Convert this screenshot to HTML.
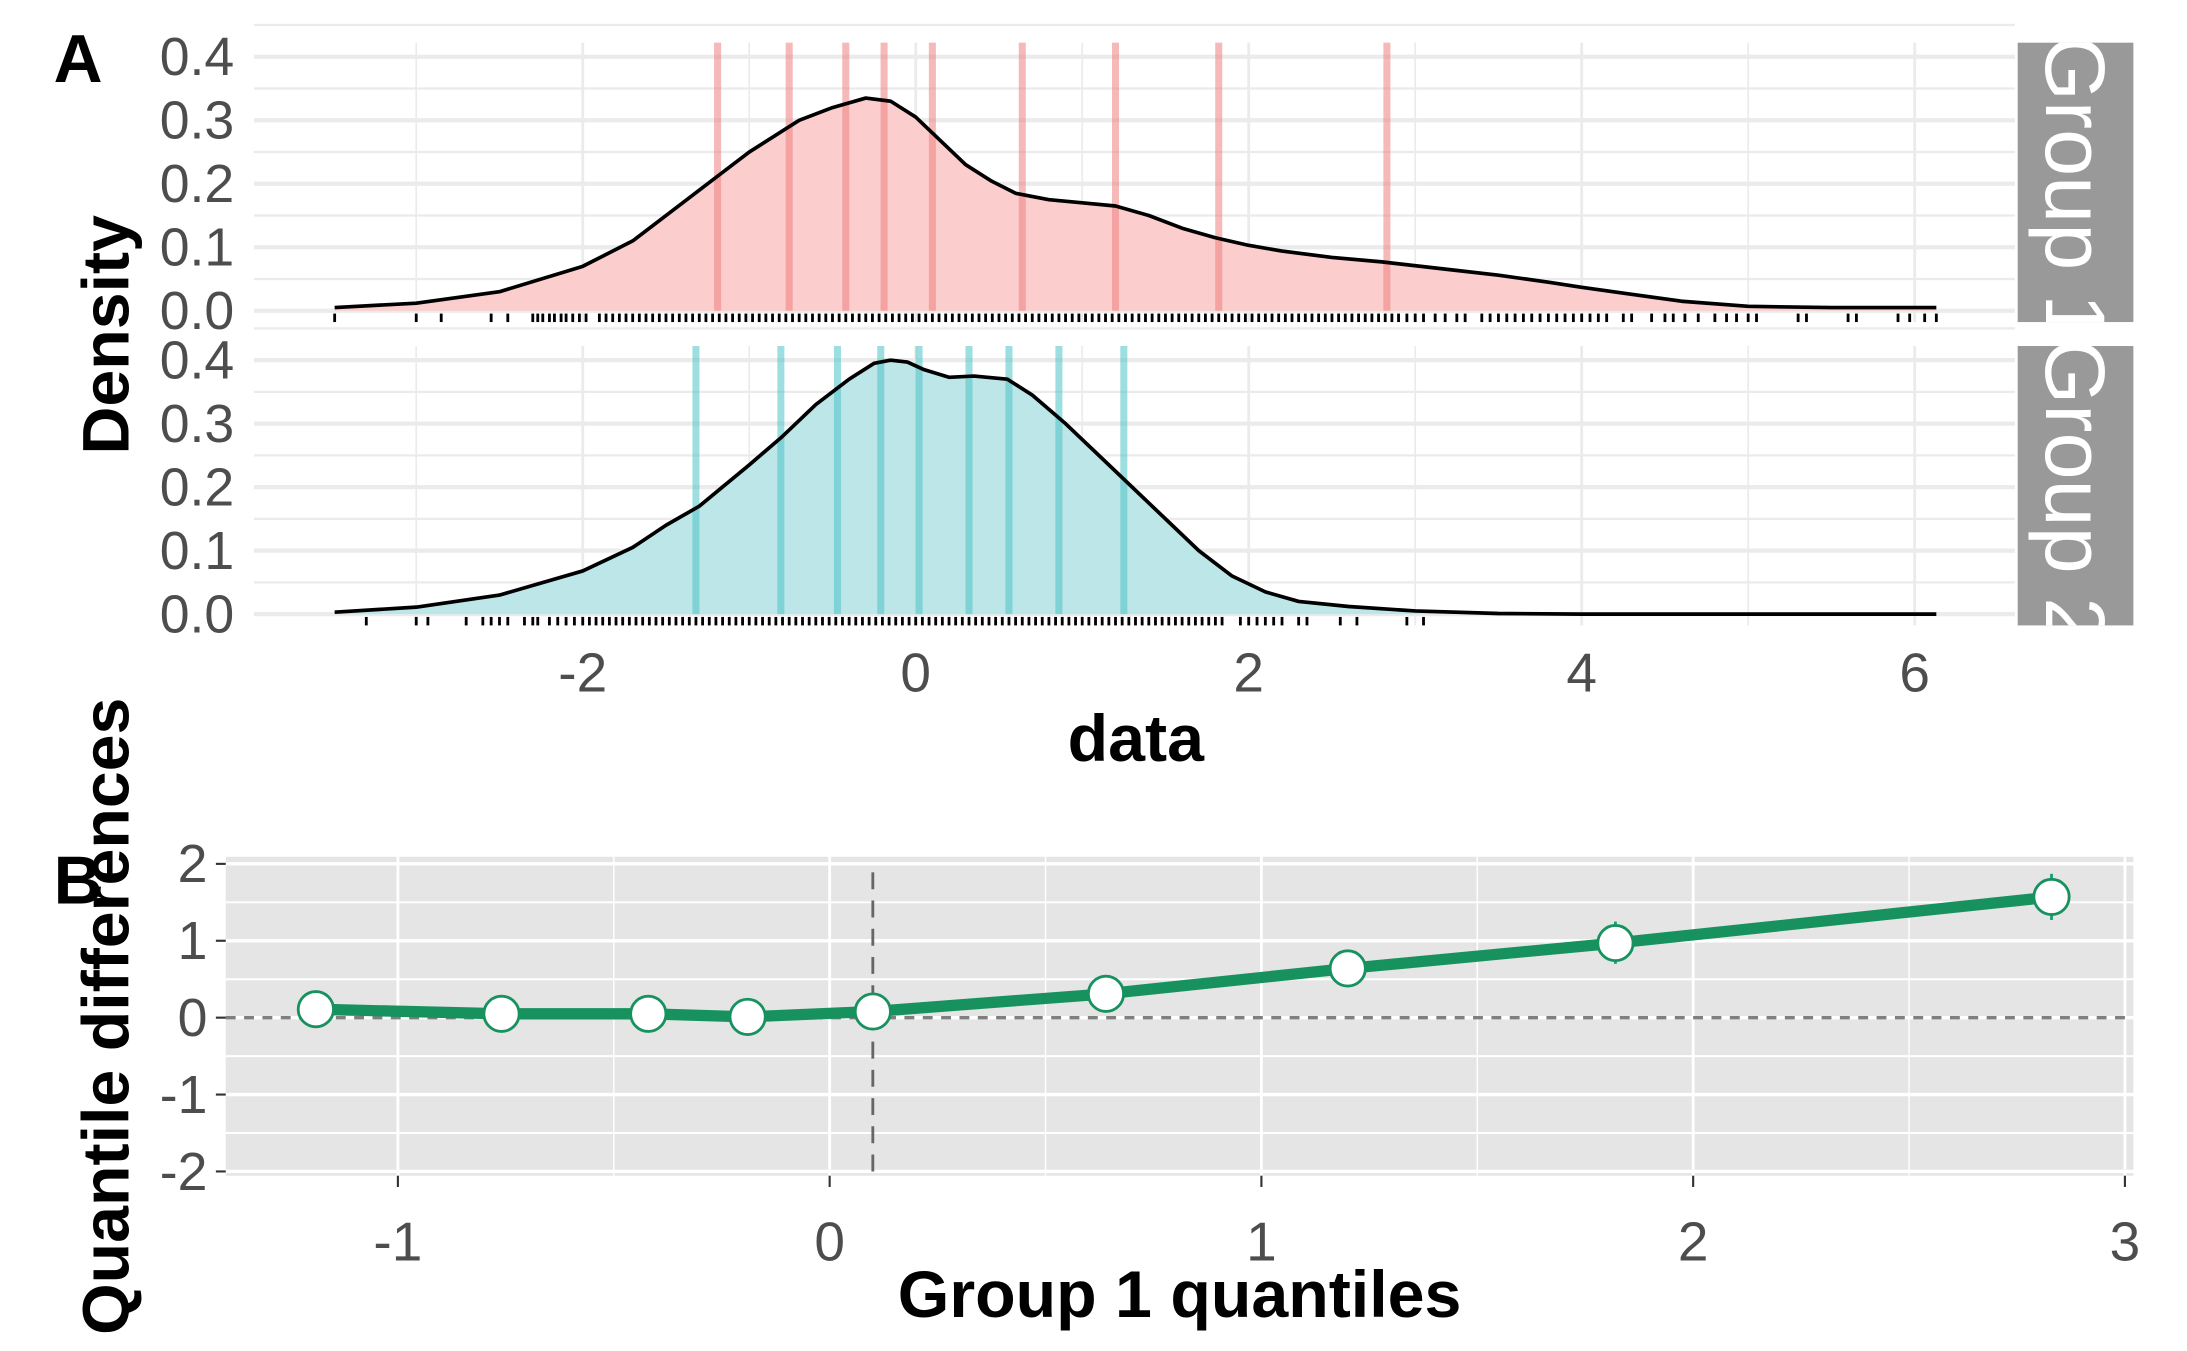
<!DOCTYPE html>
<html><head><meta charset="utf-8">
<style>
html,body{margin:0;padding:0;background:#fff;}
svg{display:block;}
text{font-family:"Liberation Sans",Arial,sans-serif;}
</style></head>
<body>
<svg id="chart" width="2187" height="1351" viewBox="0 0 1550 957" xmlns="http://www.w3.org/2000/svg">
<defs>
<clipPath id="clip1"><rect x="1430" y="30" width="82" height="198"/></clipPath>
<clipPath id="clip2"><rect x="1430" y="245" width="82" height="198"/></clipPath>
</defs>
<g id="root"></g>
</svg>
<script>
// ---- data ----
const densityX1 = [-3.49,-3.0,-2.5,-2.0,-1.7,-1.5,-1.2,-1.0,-0.7,-0.5,-0.3,-0.15,0.0,0.1,0.3,0.45,0.6,0.8,1.0,1.2,1.4,1.6,1.8,2.0,2.2,2.5,2.8,3.2,3.5,3.8,4.0,4.3,4.6,5.0,5.5,6.13];
const densityY1 = [0.005,0.012,0.03,0.07,0.11,0.15,0.21,0.25,0.30,0.32,0.335,0.33,0.305,0.28,0.23,0.205,0.185,0.175,0.17,0.165,0.15,0.13,0.115,0.103,0.094,0.084,0.077,0.065,0.056,0.045,0.037,0.026,0.015,0.007,0.005,0.005];
const densityX2 = [-3.49,-3.0,-2.5,-2.0,-1.7,-1.5,-1.3,-1.0,-0.8,-0.6,-0.4,-0.25,-0.15,-0.05,0.05,0.2,0.35,0.55,0.7,0.9,1.1,1.3,1.5,1.7,1.9,2.1,2.3,2.6,3.0,3.5,4.0,5.0,6.13];
const densityY2 = [0.003,0.011,0.03,0.068,0.105,0.14,0.17,0.235,0.28,0.33,0.37,0.395,0.40,0.397,0.385,0.373,0.375,0.37,0.345,0.30,0.25,0.20,0.15,0.10,0.06,0.035,0.02,0.012,0.005,0.001,0.0,0.0,0.0];
const quantiles1 = [-1.19,-0.76,-0.42,-0.19,0.10,0.64,1.20,1.82,2.83];
const quantiles2 = [-1.32,-0.81,-0.47,-0.21,0.02,0.32,0.56,0.86,1.25];
const qDiff = [0.11,0.05,0.05,0.01,0.08,0.31,0.64,0.97,1.57];
const qDiffLo = [0.05,0.0,0.0,-0.05,-0.04,0.2,0.5,0.7,1.27];
const qDiffHi = [0.17,0.1,0.1,0.07,0.2,0.42,0.78,1.25,1.87];
const rug1 = [-3.49,-3.0,-2.85,-2.55,-2.45,-2.3,-2.27,-2.24,-2.2,-2.17,-2.13,-2.1,-2.06,-2.02,-1.98,-1.9,-1.86,-1.82,-1.78,-1.74,-1.7,-1.66,-1.62,-1.58,-1.54,-1.5,-1.46,-1.42,-1.38,-1.34,-1.3,-1.26,-1.22,-1.18,-1.14,-1.1,-1.06,-1.02,-0.98,-0.94,-0.9,-0.86,-0.82,-0.78,-0.74,-0.7,-0.66,-0.62,-0.58,-0.54,-0.5,-0.46,-0.42,-0.38,-0.34,-0.3,-0.26,-0.22,-0.18,-0.14,-0.1,-0.06,-0.02,0.02,0.06,0.1,0.14,0.18,0.22,0.26,0.3,0.34,0.38,0.42,0.46,0.5,0.54,0.58,0.62,0.66,0.7,0.74,0.78,0.82,0.86,0.9,0.94,0.98,1.02,1.06,1.1,1.14,1.18,1.22,1.26,1.3,1.34,1.38,1.42,1.46,1.5,1.54,1.58,1.62,1.66,1.7,1.74,1.78,1.82,1.86,1.9,1.94,1.98,2.02,2.06,2.1,2.14,2.18,2.22,2.26,2.3,2.34,2.38,2.42,2.46,2.5,2.54,2.58,2.62,2.66,2.7,2.74,2.78,2.82,2.86,2.9,2.95,3.0,3.05,3.12,3.18,3.25,3.3,3.4,3.45,3.5,3.55,3.6,3.65,3.7,3.75,3.8,3.85,3.9,3.95,4.0,4.05,4.1,4.15,4.25,4.3,4.42,4.5,4.55,4.62,4.7,4.8,4.87,4.93,5.0,5.05,5.3,5.35,5.6,5.65,5.9,5.97,6.06,6.13];
const rug2 = [-3.3,-3.0,-2.93,-2.7,-2.6,-2.55,-2.5,-2.45,-2.35,-2.3,-2.27,-2.2,-2.15,-2.1,-2.05,-2.0,-1.96,-1.92,-1.88,-1.84,-1.8,-1.76,-1.72,-1.68,-1.64,-1.6,-1.56,-1.52,-1.48,-1.44,-1.4,-1.36,-1.32,-1.28,-1.24,-1.2,-1.16,-1.12,-1.08,-1.04,-1.0,-0.96,-0.92,-0.88,-0.84,-0.8,-0.76,-0.72,-0.68,-0.64,-0.6,-0.56,-0.52,-0.48,-0.44,-0.4,-0.36,-0.32,-0.28,-0.24,-0.2,-0.16,-0.12,-0.08,-0.04,0.0,0.04,0.08,0.12,0.16,0.2,0.24,0.28,0.32,0.36,0.4,0.44,0.48,0.52,0.56,0.6,0.64,0.68,0.72,0.76,0.8,0.84,0.88,0.92,0.96,1.0,1.04,1.08,1.12,1.16,1.2,1.24,1.28,1.32,1.36,1.4,1.44,1.48,1.52,1.56,1.6,1.64,1.68,1.72,1.76,1.8,1.84,1.95,2.0,2.05,2.1,2.15,2.2,2.3,2.35,2.55,2.65,2.95,3.05];
const xTicksA = [-2,0,2,4,6];
const yTicksA = [0,0.1,0.2,0.3,0.4];
const xTicksB = [-1,0,1,2,3];
const yTicksB = [2,1,0,-1,-2];

// ---- scales ----
const ax = v => 649 + v*118;
const topY = v => 220 - v*450;
const botY = v => 435 - v*450;
const bx = v => 588 + v*306;
const by = v => 721 - v*54.5;

const NS='http://www.w3.org/2000/svg';
const root=document.getElementById('root');
function mk(tag, attrs, parent){const e=document.createElementNS(NS,tag);for(const k in attrs)e.setAttribute(k,attrs[k]);(parent||root).appendChild(e);return e;}

function panelA(yS, top, bottom, dx, dy, qs, rug, fill, qcol, label, name, clip){
  const g=mk('g',{});
  
  
  for(let v=-3; v<=6.01; v+=1){mk('line',{x1:ax(v),x2:ax(v),y1:top,y2:bottom,stroke:'#ebebeb','stroke-width':v%2===0?2:1.2},g);}
  for(let v=0; v<=0.451; v+=0.05){const major=Math.round(v*100)%10===0;mk('line',{x1:180,x2:1428,y1:yS(v),y2:yS(v),stroke:'#ebebeb','stroke-width':major?3:1.6},g);}
  let d='M'+ax(dx[0])+','+yS(0);
  dx.forEach((x,i)=>{d+=' L'+ax(x)+','+yS(dy[i]);});
  d+=' L'+ax(dx[dx.length-1])+','+yS(0)+' Z';
  const area=mk('path',{d:d,fill:fill,stroke:'none'},g);
  
  
  qs.forEach(q=>{const l=mk('line',{x1:ax(q),x2:ax(q),y1:top,y2:yS(0),stroke:qcol,'stroke-width':5,opacity:0.55},g);
    
    });
  let c='';
  dx.forEach((x,i)=>{c+=(i?' L':'M')+ax(x)+','+yS(dy[i]);});
  const cur=mk('path',{d:c,fill:'none',stroke:'#000','stroke-width':2.6,'stroke-linejoin':'round'},g);
  
  
  rug.forEach(r=>{mk('line',{x1:ax(r),x2:ax(r),y1:yS(0)+2,y2:yS(0)+8,stroke:'#000','stroke-width':2},g);});
  yTicksA.forEach(v=>{const t=mk('text',{x:166,y:yS(v)+13,'text-anchor':'end','font-size':38,fill:'#4d4d4d'},g);t.textContent=v.toFixed(1);
    
    });
  const s=mk('rect',{x:1430,y:top,width:82,height:bottom-top,fill:'#999'},g);
  
  
  const cg=mk('g',{'clip-path':'url(#'+clip+')'},g);
  const cy=(top+bottom)/2+4;
  const st=mk('text',{x:1471,y:cy,'text-anchor':'middle','dominant-baseline':'central','font-size':60,fill:'#fff',transform:'rotate(90 1471 '+cy+')'},cg);
  st.textContent=label;
  
  
}
panelA(topY,30,228,densityX1,densityY1,quantiles1,rug1,'#fbcdcd','#f08080','Group 1','group1-density-panel','clip1');
panelA(botY,245,443,densityX2,densityY2,quantiles2,rug2,'#bce6e8','#4ec5c9','Group 2','group2-density-panel','clip2');

xTicksA.forEach(v=>{const t=mk('text',{x:ax(v),y:490,'text-anchor':'middle','font-size':39,fill:'#4d4d4d'});t.textContent=v;
  
  });

// ---- panel B ----
const gB=mk('g',{});


mk('rect',{x:160,y:607,width:1352,height:226,fill:'#e5e5e5'},gB);
for(let v=-1.5; v<=3.01; v+=0.5){const major=Math.abs(v-Math.round(v))<0.01;mk('line',{x1:bx(v),x2:bx(v),y1:607,y2:833,stroke:'#fff','stroke-width':major?2:1},gB);}
for(let v=-2; v<=2.01; v+=0.5){const major=Math.abs(v-Math.round(v))<0.01;mk('line',{x1:160,x2:1512,y1:by(v),y2:by(v),stroke:'#fff','stroke-width':major?2.4:1.4},gB);}
mk('line',{x1:160,x2:1512,y1:by(0),y2:by(0),stroke:'#7f7f7f','stroke-width':2.4,'stroke-dasharray':'7,6'},gB);
mk('line',{x1:bx(quantiles1[4]),x2:bx(quantiles1[4]),y1:618,y2:836,stroke:'#666','stroke-width':2,'stroke-dasharray':'12,8'},gB);
quantiles1.forEach((q,i)=>{mk('line',{x1:bx(q),x2:bx(q),y1:by(qDiffLo[i]),y2:by(qDiffHi[i]),stroke:'#1b9e77','stroke-width':2},gB);});
let pl='';
quantiles1.forEach((q,i)=>{pl+=(i?' L':'M')+bx(q)+','+by(qDiff[i]);});
const ln=mk('path',{d:pl,fill:'none',stroke:'#17925f','stroke-width':8,'stroke-linejoin':'round'},gB);


quantiles1.forEach((q,i)=>{const c=mk('circle',{cx:bx(q),cy:by(qDiff[i]),r:12.5,fill:'#fff',stroke:'#17925f','stroke-width':2},gB);
  
  });
yTicksB.forEach(v=>{mk('line',{x1:153,x2:160,y1:by(v),y2:by(v),stroke:'#333','stroke-width':1.5},gB);
  const t=mk('text',{x:147,y:by(v)+13,'text-anchor':'end','font-size':38,fill:'#4d4d4d'},gB);t.textContent=v;
  
  });
xTicksB.forEach(v=>{mk('line',{x1:bx(v),x2:bx(v),y1:833,y2:841,stroke:'#333','stroke-width':1.5},gB);
  const t=mk('text',{x:bx(v),y:893,'text-anchor':'middle','font-size':39,fill:'#4d4d4d'},gB);t.textContent=v;
  
  });
</script>
<svg style="position:absolute;left:0;top:0" width="2187" height="1351" viewBox="0 0 1550 957" xmlns="http://www.w3.org/2000/svg">
<text x="38" y="58" font-size="48" font-weight="bold" font-family="Liberation Sans, sans-serif">A</text>
<text x="38" y="640" font-size="48" font-weight="bold" font-family="Liberation Sans, sans-serif">B</text>
<text x="0" y="0" transform="translate(91 237) rotate(-90)" text-anchor="middle" font-size="47" font-weight="bold" font-family="Liberation Sans, sans-serif">Density</text>
<text x="805" y="539" text-anchor="middle" font-size="47" font-weight="bold" font-family="Liberation Sans, sans-serif">data</text>
<text x="0" y="0" transform="translate(91 720) rotate(-90)" text-anchor="middle" font-size="47" font-weight="bold" font-family="Liberation Sans, sans-serif">Quantile differences</text>
<text x="836" y="933" text-anchor="middle" font-size="47" font-weight="bold" font-family="Liberation Sans, sans-serif">Group 1 quantiles</text>
</svg>
</body></html>
